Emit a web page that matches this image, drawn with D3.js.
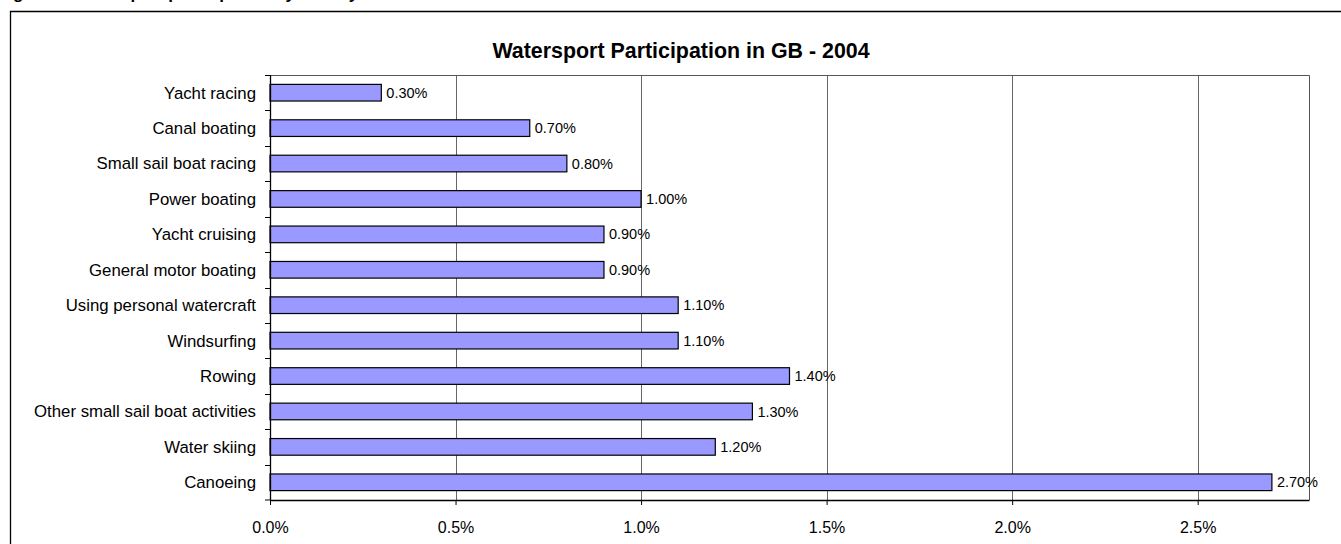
<!DOCTYPE html>
<html>
<head>
<meta charset="utf-8">
<script src="https://cdn.jsdelivr.net/npm/d3@7/dist/d3.min.js"></script>
<style>
  html, body { margin: 0; padding: 0; background: #fff; }
  svg { display: block; font-family: Arial, "Liberation Sans", sans-serif; }
</style>
</head>
<body>
<svg id="chart" width="1341" height="544"></svg>
<script>
// data, top to bottom as in the chart
var activities = ["Yacht racing", "Canal boating", "Small sail boat racing", "Power boating",
  "Yacht cruising", "General motor boating", "Using personal watercraft", "Windsurfing",
  "Rowing", "Other small sail boat activities", "Water skiing", "Canoeing"];
var participation = [0.3, 0.7, 0.8, 1.0, 0.9, 0.9, 1.1, 1.1, 1.4, 1.3, 1.2, 2.7];
var xTicks = [0, 0.5, 1.0, 1.5, 2.0, 2.5];
var chartTitle = "Watersport Participation in GB - 2004";

var svg = d3.select("#chart");
var width = 1341, height = 544;

var plot = {left: 270, right: 1309, top: 75, bottom: 500};

// caption line above, cut off by the crop
svg.append("text")
    .attr("x", -2)
    .attr("y", -1)
    .style("font-size", "17px")
    .style("font-weight", "bold")
    .text("Figure 3: Watersport participation by activity");

// outer chart frame (runs off the right and bottom edge)
svg.append("path")
    .attr("d", "M10.5," + (height + 5) + "V11.5H" + (width + 5))
    .attr("fill", "none")
    .attr("stroke", "#000")
    .attr("stroke-width", 1.3);

var x = d3.scaleLinear().domain([0, 2.8]).range([plot.left, plot.right]);
var y = d3.scaleBand().domain(activities).range([plot.top, plot.bottom]).paddingInner(0.53).paddingOuter(0.265);
var yb = d3.scaleBand().domain(activities).range([plot.top, plot.bottom]);

// gridlines
svg.append("g")
  .selectAll("line")
  .data(xTicks.slice(1))
  .enter().append("line")
    .attr("x1", function(d) { return Math.round(x(d)) + 0.5; })
    .attr("x2", function(d) { return Math.round(x(d)) + 0.5; })
    .attr("y1", plot.top)
    .attr("y2", plot.bottom)
    .attr("stroke", "#666")
    .attr("stroke-width", 1);

// plot border top and right
svg.append("path")
    .attr("d", "M" + plot.left + "," + (plot.top + 0.5) + "H" + (plot.right + 0.5) + "V" + plot.bottom)
    .attr("fill", "none")
    .attr("stroke", "#555")
    .attr("stroke-width", 1);

// bars
svg.append("g")
  .selectAll("rect")
  .data(activities)
  .enter().append("rect")
    .attr("x", x(0))
    .attr("y", function(d) { return y(d); })
    .attr("width", function(d, i) { return x(participation[i]) - x(0); })
    .attr("height", y.bandwidth())
    .attr("fill", "#9999ff")
    .attr("stroke", "#000")
    .attr("stroke-width", 1.2);

// value labels
svg.append("g")
  .selectAll("text")
  .data(activities)
  .enter().append("text")
    .attr("x", function(d, i) { return x(participation[i]) + 5; })
    .attr("y", function(d) { return y(d) + y.bandwidth() / 2; })
    .attr("dy", "0.35em")
    .style("font-size", "14.5px")
    .text(function(d, i) { return participation[i].toFixed(2) + "%"; });

// y axis
var yAxis = svg.append("g")
    .attr("transform", "translate(" + plot.left + ",0)");
yAxis.append("line")
    .attr("x1", 0.5).attr("x2", 0.5)
    .attr("y1", plot.top).attr("y2", plot.bottom)
    .attr("stroke", "#000").attr("stroke-width", 1.3);
yAxis.selectAll(".tick")
  .data(activities.concat(["_end"]))
  .enter().append("line")
    .attr("x1", -5).attr("x2", 0)
    .attr("y1", function(d) { return d === "_end" ? plot.bottom : Math.round(yb(d)) + 0.5; })
    .attr("y2", function(d) { return d === "_end" ? plot.bottom : Math.round(yb(d)) + 0.5; })
    .attr("stroke", "#000");
yAxis.selectAll("text")
  .data(activities)
  .enter().append("text")
    .attr("x", -14)
    .attr("y", function(d) { return y(d) + y.bandwidth() / 2; })
    .attr("dy", "0.35em")
    .attr("text-anchor", "end")
    .style("font-size", "16.8px")
    .text(function(d) { return d; });

// x axis
var xAxis = svg.append("g")
    .attr("transform", "translate(0," + plot.bottom + ")")
    .call(d3.axisBottom(x).tickValues(xTicks).tickSize(5).tickSizeOuter(0)
      .tickFormat(function(d) { return d3.format(".1f")(d) + "%"; }));
xAxis.select(".domain").attr("stroke", "#000").attr("stroke-width", 1.3);
xAxis.selectAll(".tick line").attr("stroke", "#000");
xAxis.selectAll(".tick text")
    .attr("y", 22)
    .attr("fill", "#000")
    .style("font-size", "16px")
    .style("font-family", "Arial, 'Liberation Sans', sans-serif");

// title
svg.append("text")
    .attr("x", 681)
    .attr("y", 58)
    .attr("text-anchor", "middle")
    .style("font-size", "21.4px")
    .style("font-weight", "bold")
    .text(chartTitle);
</script>
</body>
</html>
